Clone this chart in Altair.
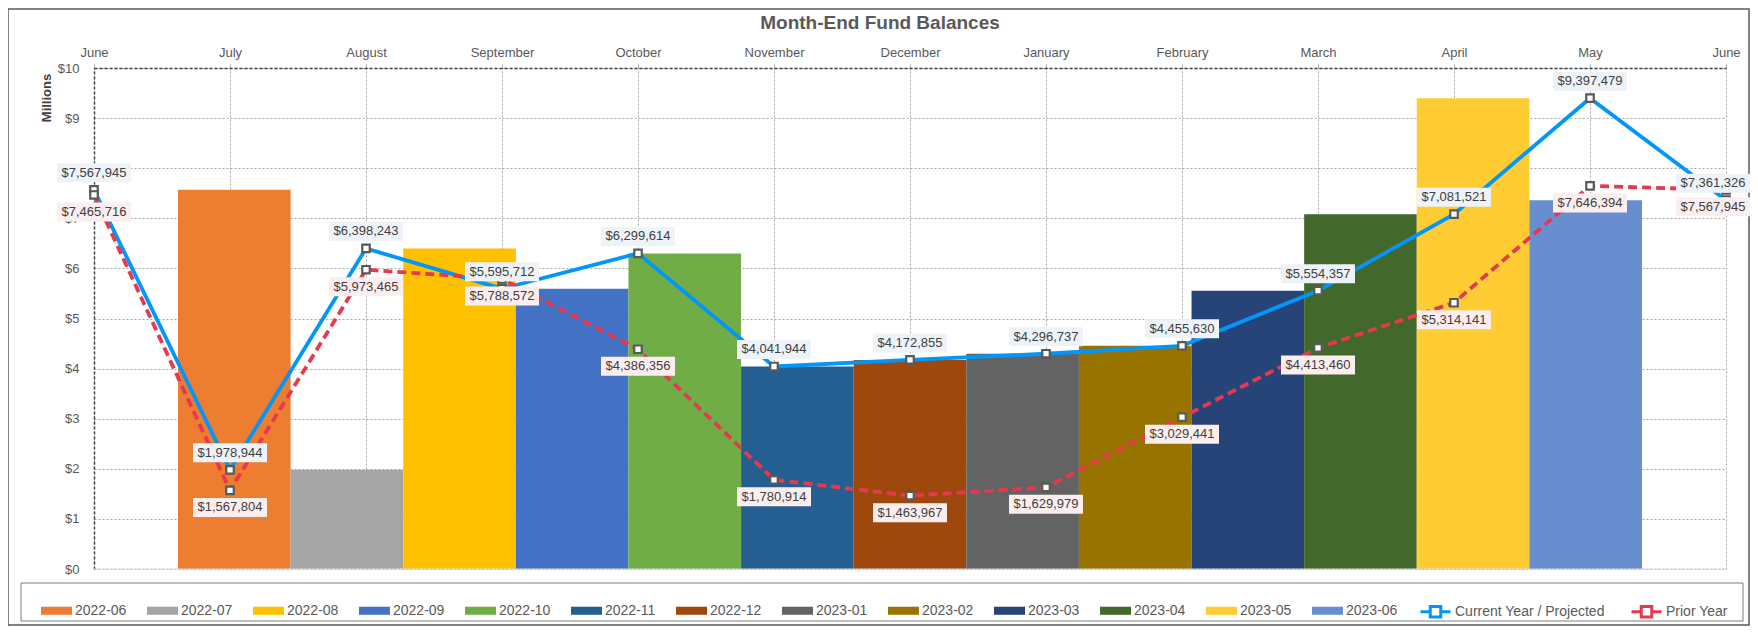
import altair as alt
import pandas as pd

title_text = "Month-End Fund Balances"
axis_months = ["June", "July", "August", "September", "October", "November", "December",
               "January", "February", "March", "April", "May", "June"]
bar_months = ["2022-06", "2022-07", "2022-08", "2022-09", "2022-10", "2022-11", "2022-12",
              "2023-01", "2023-02", "2023-03", "2023-04", "2023-05", "2023-06"]
bar_values = [7567945, 1978944, 6398243, 5595712, 6299614, 4041944, 4172855,
              4296737, 4455630, 5554357, 7081521, 9397479, 7361326]
bar_colors = ["#ED7D31", "#A5A5A5", "#FFC000", "#4472C4", "#70AD47", "#255E91", "#9E480E",
              "#636363", "#997300", "#264478", "#43682B", "#FFCD33", "#698ED0"]
current_values = [7567945, 1978944, 6398243, 5595712, 6299614, 4041944, 4172855,
                  4296737, 4455630, 5554357, 7081521, 9397479, 7361326]
prior_values = [7465716, 1567804, 5973465, 5788572, 4386356, 1780914, 1463967,
                1629979, 3029441, 4413460, 5314141, 7646394, 7567945]
series_names = ["Current Year / Projected", "Prior Year"]
series_colors = ["#0096FA", "#E63950"]
label_bg = ["#EEF3FA", "#FCEEEF"]

bars_df = pd.DataFrame({"month": bar_months, "raw": bar_values})
bars_df["value"] = bars_df["raw"] / 1e6

rows = []
for s, vals in zip(series_names, [current_values, prior_values]):
    for i, v in enumerate(vals):
        rows.append({"pos": i, "series": s, "raw": v, "value": v / 1e6})
line_df = pd.DataFrame(rows)

W, H = 1632, 501
FONT = "Liberation Sans"
GRID = "#A6A6A6"
DARK = "#404040"
LAST = len(axis_months) - 1

yscale = alt.Scale(domain=[0, 10], nice=False, zero=True)
xq = alt.Scale(domain=[0, LAST], nice=False, zero=False)
label_expr = "[" + ",".join(f"'{m}'" for m in axis_months) + "][datum.value]"

one = alt.Data(values=[{"k": 1}])

x_axis = alt.Axis(orient="top", values=list(range(len(axis_months))), labelExpr=label_expr,
                  title=None, grid=True, gridDash=[2, 2], gridColor=GRID, domainColor=DARK,
                  domainDash=[3, 2], domainWidth=1.5, tickSize=4, tickColor=GRID,
                  labelFontSize=13, labelColor="#595959", labelFont=FONT, labelPadding=5,
                  labelFlush=False, labelOverlap=False)
y_axis = alt.Axis(values=list(range(11)), labelExpr="'$' + datum.value", title="Millions",
                  titleX=-48, titleY=29.5, titleAngle=270, titleAlign="center",
                  titleBaseline="middle", titleFontSize=13, titleFontWeight="bold",
                  titleColor=DARK, titleFont=FONT, grid=True, gridDash=[2, 2], gridColor=GRID,
                  domainColor=DARK, domainDash=[3, 2], domainWidth=1.5, ticks=False,
                  labelPadding=15, labelFontSize=13, labelColor="#595959", labelFont=FONT,
                  labelFlush=False)


def Yq(field="value"):
    return alt.Y(f"{field}:Q", scale=yscale, axis=y_axis)


def Xq(axis=None):
    return alt.X("pos:Q", scale=xq, axis=axis)


# decorations
outer_border = alt.Chart(one).mark_rect(fill="transparent", stroke="#595959", strokeWidth=1.5).encode(
    x=alt.value(-86), x2=alt.value(W + 23), y=alt.value(-59), y2=alt.value(H + 56))
legend_box = alt.Chart(one).mark_rect(fill="transparent", stroke="#7F7F7F", strokeWidth=1).encode(
    x=alt.value(-73), x2=alt.value(W + 17), y=alt.value(H + 14), y2=alt.value(H + 52))
title_mark = alt.Chart(alt.Data(values=[{"t": title_text}])).mark_text(
    font=FONT, fontSize=19, fontWeight="bold", color="#595959", align="center",
    baseline="middle").encode(x=alt.value(786), y=alt.value(-45), text="t:N")

bars = alt.Chart(bars_df).mark_bar().encode(
    x=alt.X("month:N", sort=bar_months,
            scale=alt.Scale(paddingInner=0, paddingOuter=0.746), axis=None),
    y=Yq(),
    fill=alt.Fill("month:N", scale=alt.Scale(domain=bar_months, range=bar_colors),
                  legend=alt.Legend(orient="none", legendX=-53, legendY=H + 26,
                                    direction="horizontal", columns=13, title=None,
                                    symbolType="M-1,-0.26H1V0.26H-1Z", symbolSize=961,
                                    symbolStrokeWidth=0, labelFontSize=14, labelColor="#595959",
                                    labelFont=FONT, columnPadding=20, labelOffset=3, padding=0)),
)

zero_rule = alt.Chart(one).transform_calculate(zero="0").mark_rule(
    color="#D9D9D9", strokeWidth=1).encode(y=Yq("zero"))

line_legend = alt.Legend(orient="none", legendX=1325, legendY=H + 26, direction="horizontal",
                         columns=2, title=None,
                         symbolType="M-1,0H-0.35M0.35,0H1M-0.35,-0.35H0.35V0.35H-0.35Z",
                         symbolSize=900, symbolStrokeWidth=3, symbolFillColor="white",
                         labelFontSize=14, labelColor="#595959", labelFont=FONT,
                         columnPadding=20, labelOffset=3, padding=0)
stroke_scale = alt.Scale(domain=series_names, range=series_colors)

base = alt.Chart(line_df)
line_cur = base.transform_filter(alt.datum.series == series_names[0]).mark_line(strokeWidth=3.8).encode(
    x=Xq(x_axis), y=Yq(),
    stroke=alt.Stroke("series:N", scale=stroke_scale, legend=line_legend),
)
line_pri = base.transform_filter(alt.datum.series == series_names[1]).mark_line(
    strokeWidth=3.8, strokeDash=[9, 5]).encode(
    x=Xq(), y=Yq(),
    stroke=alt.Stroke("series:N", scale=stroke_scale, legend=line_legend),
)
markers = base.mark_point(shape="square", filled=True, fill="white", stroke="#595959",
                          strokeWidth=2.2, size=56, opacity=1).encode(x=Xq(), y=Yq())

label_layers = []
for s, bg, off in zip(series_names, label_bg, [-17, 17]):
    for last in (False, True):
        cond = (alt.datum.pos == LAST) if last else (alt.datum.pos != LAST)
        shift = -13 if last else 0
        b = base.transform_filter(alt.datum.series == s).transform_filter(cond)
        box = b.mark_point(shape="M-1,-0.257H1V0.257H-1Z", filled=True, fill=bg, strokeWidth=0,
                           size=74 * 74, opacity=1, yOffset=off, xOffset=shift).encode(
            x=Xq(), y=Yq())
        txt = b.mark_text(font=FONT, fontSize=13, color=DARK, dy=off, dx=shift,
                          baseline="middle", align="center").encode(
            x=Xq(), y=Yq(), text=alt.Text("raw:Q", format="$,"))
        label_layers += [box, txt]

chart = alt.layer(
    outer_border, legend_box, title_mark, bars, zero_rule,
    line_cur, line_pri, markers, *label_layers
).resolve_scale(x="independent").properties(
    width=W, height=H,
    autosize=alt.AutoSizeParams(type="none"),
    padding={"left": 86, "top": 60, "right": 24, "bottom": 57},
).configure_view(stroke=None)

chart.save("out.html", embed_options={"renderer": "svg", "actions": False})
